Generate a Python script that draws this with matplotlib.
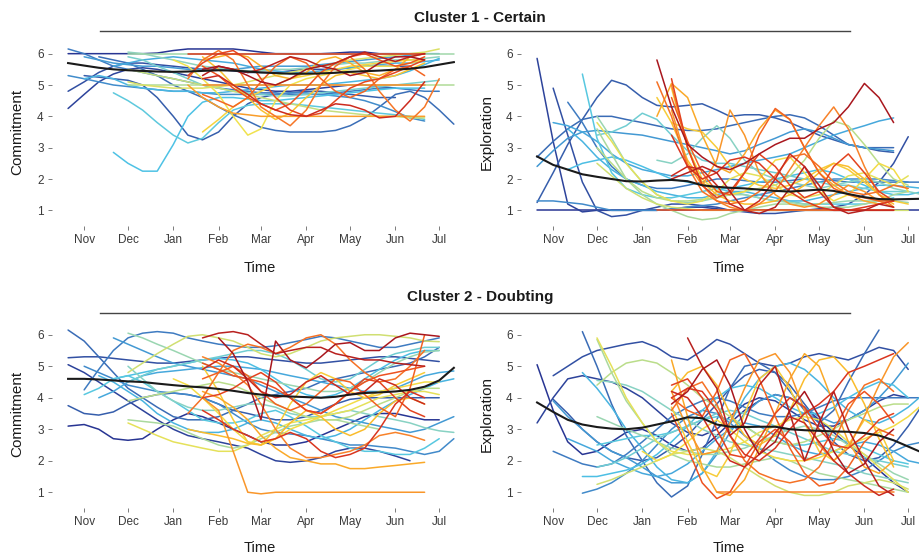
import numpy as np
import matplotlib
matplotlib.use("Agg")
import matplotlib.pyplot as plt
from matplotlib.colors import LinearSegmentedColormap
from matplotlib.lines import Line2D

plt.rcParams["font.family"] = ["Liberation Sans", "DejaVu Sans"]

# measurement grid (roughly every 10 days)
dates = np.array(["2019-10-11", "2019-10-21", "2019-11-01", "2019-11-11", "2019-11-21",
                  "2019-12-01", "2019-12-11", "2019-12-21", "2020-01-01", "2020-01-11",
                  "2020-01-21", "2020-02-01", "2020-02-11", "2020-02-21", "2020-03-01",
                  "2020-03-11", "2020-03-21", "2020-04-01", "2020-04-11", "2020-04-21",
                  "2020-05-01", "2020-05-11", "2020-05-21", "2020-06-01", "2020-06-11",
                  "2020-06-21", "2020-07-01", "2020-07-11"], dtype="datetime64[D]")

month_ticks = np.array(["2019-11-01", "2019-12-01", "2020-01-01", "2020-02-01", "2020-03-01",
                        "2020-04-01", "2020-05-01", "2020-06-01", "2020-07-01"], dtype="datetime64[D]")
month_labels = ["Nov", "Dec", "Jan", "Feb", "Mar", "Apr", "May", "Jun", "Jul"]

# each participant: (index of first date, values), ordered by participant id
c1_commit = [
    (1, [6.0, 6.0, 6.0, 6.0, 6.0, 6.0, 6.02, 6.1, 6.15, 6.15, 6.15, 6.15, 6.1, 6.05, 6.0, 6.0, 6.0, 6.0, 6.02, 6.05, 6.05, 6.0, 6.0, 6.0, 6.0]),
    (1, [4.25, 4.7, 5.1, 5.35, 5.5, 5.55, 5.5, 5.4, 5.3, 5.2, 5.1, 5.0, 4.9, 4.85, 4.8, 4.8, 4.85, 4.9, 4.95, 5.0, 5.0, 4.95, 4.9]),
    (1, [4.8, 5.1, 5.4, 5.6, 5.7, 5.7, 5.65, 5.6, 5.55, 5.5, 5.5, 5.45, 5.4, 5.4, 5.4, 5.45, 5.5, 5.5, 5.5, 5.55, 5.6, 5.6, 5.6, 5.6]),
    (2, [5.3, 5.25, 5.2, 5.15, 5.0, 4.6, 4.0, 3.4, 3.25, 3.5, 4.0, 4.4, 4.6, 4.7, 4.75, 4.8, 4.8, 4.75, 4.7, 4.65, 4.6, 4.6]),
    (3, [5.9, 5.8, 5.7, 5.5, 5.3, 5.0, 4.8, 4.6, 4.3, 4.05, 3.85, 3.65, 3.55, 3.5, 3.5, 3.5, 3.55, 3.7, 3.95, 4.3, 4.7, 4.8, 4.6, 4.2, 3.75]),
    (1, [6.15, 6.0, 5.8, 5.6, 5.5, 5.4, 5.3, 5.2, 5.1, 5.0, 4.9, 4.85, 4.8, 4.75, 4.75, 4.7, 4.7, 4.7, 4.75, 4.8, 4.85, 4.9, 4.9, 4.85, 4.8, 4.8]),
    (1, [5.3, 5.2, 5.1, 5.0, 4.95, 4.9, 4.85, 4.8, 4.8, 4.75, 4.7, 4.7, 4.7, 4.7, 4.7, 4.75, 4.75, 4.7, 4.65, 4.6, 4.5, 4.35, 4.15, 3.95, 3.85]),
    (2, [5.9, 5.8, 5.7, 5.65, 5.6, 5.6, 5.55, 5.5, 5.5, 5.5, 5.5, 5.55, 5.6, 5.6, 5.6, 5.6, 5.65, 5.7, 5.75, 5.8, 5.85, 5.9, 5.95, 6.0, 6.0]),
    (4, [5.6, 5.7, 5.8, 5.85, 5.9, 5.85, 5.8, 5.75, 5.7, 5.6, 5.5, 5.45, 5.4, 5.4, 5.45, 5.5, 5.55, 5.6, 5.65, 5.7, 5.7, 5.75, 5.8]),
    (2, [5.2, 5.3, 5.2, 5.0, 4.9, 4.85, 4.8, 4.8, 4.75, 4.75, 4.8, 4.85, 4.9, 4.95, 5.0, 5.0, 5.0, 5.05, 5.1, 5.15, 5.2, 5.3, 5.45, 5.65, 5.85]),
    (4, [2.85, 2.5, 2.25, 2.25, 3.1, 4.0, 4.45, 4.6, 4.6, 4.55, 4.5, 4.5, 4.55, 4.6, 4.65, 4.7, 4.75, 4.8, 4.85, 4.9, 4.9, 4.9]),
    (4, [4.75, 4.5, 4.2, 3.8, 3.4, 3.15, 3.3, 3.8, 4.2, 4.35, 4.4, 4.4, 4.4, 4.35, 4.3, 4.25, 4.2, 4.15, 4.1, 4.05, 4.0, 3.9]),
    (5, [5.9, 5.8, 5.6, 5.4, 5.2, 5.0, 4.9, 4.8, 4.75, 4.7, 4.65, 4.65, 4.7, 4.75, 4.8, 4.85, 4.9, 4.95, 5.0, 5.05, 5.1, 5.15]),
    (5, [6.05, 6.0, 5.9, 5.8, 5.7, 5.6, 5.55, 5.5, 5.45, 5.45, 5.5, 5.5, 5.55, 5.6, 5.65, 5.7, 5.7, 5.75, 5.8, 5.8, 5.85, 5.9]),
    (5, [6.0, 6.0, 6.0, 6.0, 6.0, 6.0, 6.0, 6.0, 6.0, 6.0, 6.0, 6.0, 6.0, 6.0, 6.0, 6.0, 6.0, 6.0, 6.0, 6.0, 6.0, 6.0, 6.0]),
    (5, [5.0, 5.0, 5.0, 5.0, 5.0, 5.0, 5.0, 5.0, 5.0, 5.0, 5.0, 5.0, 5.0, 5.0, 5.0, 5.0, 5.0, 5.0, 5.0, 5.0, 5.0, 5.0, 5.0]),
    (5, [5.5, 5.4, 5.3, 5.2, 5.1, 5.0, 4.9, 4.8, 4.7, 4.6, 4.5, 4.4, 4.3, 4.2, 4.15, 4.1, 4.05, 4.0, 4.0, 3.95, 3.95]),
    (5, [5.1, 5.0, 4.95, 4.9, 4.9, 4.9, 4.95, 5.0, 5.1, 5.2, 5.3, 5.4, 5.5, 5.6, 5.7, 5.8, 5.85, 5.9, 5.95, 6.0, 6.05, 6.15]),
    (8, [5.8, 5.6, 5.2, 4.7, 4.0, 3.4, 3.6, 4.5, 5.0, 5.2, 5.3, 5.4, 5.5, 5.6, 5.6, 5.6, 5.7, 5.8]),
    (10, [3.5, 3.9, 4.3, 4.6, 4.8, 5.0, 5.2, 5.3, 5.4, 5.5, 5.6, 5.65, 5.7, 5.75, 5.8, 5.8]),
    (10, [5.9, 5.5, 5.0, 4.6, 4.2, 3.9, 4.1, 4.6, 5.0, 5.3, 5.4, 5.3, 5.2, 5.3, 5.5, 5.7]),
    (10, [5.8, 5.9, 6.0, 5.9, 5.6, 5.3, 5.2, 5.4, 5.8, 5.9, 5.7, 5.4, 5.3, 5.5, 5.9, 6.0]),
    (9, [5.0, 4.6, 4.3, 4.1, 4.05, 4.0, 4.0, 4.0, 4.0, 4.0, 4.0, 4.0, 4.0, 4.0, 4.0, 4.0, 4.0]),
    (10, [5.0, 5.0, 5.0, 5.0, 5.0, 5.0, 5.0, 5.0, 5.0, 5.0, 5.0, 5.0, 5.0, 5.0, 5.0, 5.0]),
    (9, [5.2, 5.8, 6.1, 5.8, 5.0, 4.3, 4.0, 3.7, 4.2, 5.0, 5.6, 5.9, 5.5, 4.8, 4.2, 3.85, 4.3, 5.2]),
    (10, [4.7, 4.5, 4.3, 4.6, 5.1, 5.6, 5.9, 5.7, 5.2, 4.8, 4.6, 4.8, 5.2, 5.5, 5.6, 5.3]),
    (10, [5.6, 5.3, 4.9, 4.6, 4.4, 4.2, 4.4, 4.9, 5.4, 5.7, 5.9, 6.0, 5.8, 5.6, 5.7, 5.9]),
    (9, [5.3, 5.7, 6.0, 6.1, 5.8, 5.2, 4.6, 4.2, 4.0, 4.1, 4.5, 4.9, 5.1, 5.2, 5.4, 5.6, 5.8]),
    (9, [6.0, 6.0, 6.0, 6.0, 6.0, 6.0, 6.0, 6.0, 6.0, 6.0, 6.0, 6.0, 6.0, 6.0, 6.0, 6.0, 6.0]),
    (10, [5.2, 5.3, 5.0, 4.7, 4.4, 4.2, 4.05, 4.0, 4.2, 4.4, 4.35, 4.2, 3.95, 4.0, 4.5, 5.1]),
    (10, [5.3, 5.6, 5.5, 5.4, 5.5, 5.7, 5.9, 5.8, 5.6, 5.7, 5.9, 6.05, 5.9, 5.75, 5.9, 6.0]),
    (10, [5.5, 5.6, 5.5, 5.3, 5.1, 5.0, 5.2, 5.5, 5.6, 5.5, 5.3, 5.4, 5.7, 5.9, 5.9, 5.8]),
]
c1_commit_mean = [5.70, 5.62, 5.55, 5.50, 5.47, 5.45, 5.43, 5.42, 5.43, 5.45, 5.47, 5.46, 5.43, 5.40,
                  5.38, 5.36, 5.36, 5.37, 5.39, 5.42, 5.44, 5.46, 5.49, 5.52, 5.57, 5.65, 5.73]

c1_explore = [
    (1, [1.0] * 27),
    (1, [5.85, 3.2, 1.2, 0.95, 1.0, 1.0, 1.0, 1.0, 1.0, 1.05, 1.1, 1.1, 1.05, 1.0, 1.0, 1.0, 1.0, 1.0, 1.0, 1.0, 1.0, 1.0, 1.0]),
    (2, [4.9, 3.4, 1.9, 1.0, 0.8, 0.85, 1.0, 1.1, 1.2, 1.2, 1.15, 1.1, 1.0, 0.95, 0.9, 0.9, 0.95, 1.0, 1.05, 1.1, 1.2, 1.5, 1.9, 2.5, 3.35]),
    (1, [1.25, 2.2, 3.1, 3.9, 4.6, 5.15, 5.0, 4.6, 4.35, 4.3, 4.35, 4.4, 4.2, 4.0, 4.05, 4.05, 3.95, 3.8, 3.6, 3.4, 3.25, 3.1, 3.0, 2.9, 2.85]),
    (1, [2.7, 3.2, 3.6, 3.9, 4.0, 4.0, 3.9, 3.8, 3.7, 3.6, 3.55, 3.55, 3.6, 3.7, 3.8, 3.9, 4.0, 4.05, 3.95, 3.7, 3.4, 3.1, 3.0, 3.0, 3.0]),
    (3, [4.45, 3.8, 3.0, 2.4, 2.0, 1.8, 1.7, 1.7, 1.8, 1.9, 2.0, 2.0, 1.95, 1.9, 1.9, 1.95, 2.0, 2.0, 1.95, 1.9, 1.9, 1.9, 1.9, 1.9, 1.9]),
    (1, [1.3, 1.3, 1.25, 1.2, 1.1, 1.0, 1.0, 1.0, 1.0, 1.05, 1.1, 1.15, 1.2, 1.3, 1.4, 1.5, 1.6, 1.7, 1.8, 1.9, 2.0, 2.0, 2.0, 2.0, 1.95, 1.9]),
    (1, [2.4, 2.9, 3.3, 3.5, 3.55, 3.5, 3.45, 3.4, 3.3, 3.2, 3.1, 3.0, 2.9, 2.8, 2.9, 3.1, 3.3, 3.5, 3.6, 3.5, 3.3, 3.1, 3.0, 2.95, 2.9]),
    (2, [3.8, 3.7, 3.5, 3.2, 2.8, 2.5, 2.3, 2.2, 2.1, 2.1, 2.2, 2.3, 2.4, 2.5, 2.6, 2.7, 2.8, 3.0, 3.2, 3.4, 3.55, 3.7, 3.85, 3.95]),
    (3, [3.6, 3.2, 2.7, 2.3, 2.0, 1.8, 1.6, 1.5, 1.4, 1.4, 1.5, 1.6, 1.6, 1.5, 1.4, 1.3, 1.3, 1.4, 1.5, 1.6, 1.7, 1.8, 1.8, 1.75, 1.7]),
    (3, [2.3, 2.5, 2.6, 2.7, 2.6, 2.4, 2.2, 2.0, 1.9, 1.8, 1.7, 1.7, 1.8, 1.9, 2.0, 2.1, 2.2, 2.3, 2.2, 2.0, 1.8, 1.6, 1.5, 1.5, 1.6]),
    (4, [5.35, 3.3, 2.2, 1.7, 1.5, 1.4, 1.4, 1.5, 1.6, 1.7, 1.6, 1.5, 1.4, 1.3, 1.3, 1.2, 1.2, 1.2, 1.2, 1.2, 1.3, 1.4]),
    (5, [3.4, 3.5, 3.7, 4.1, 3.9, 3.4, 2.9, 2.6, 2.5, 2.5, 2.4, 2.3, 2.2, 2.1, 2.0, 1.9, 1.8, 1.8, 1.7, 1.6, 1.6, 1.6]),
    (9, [2.6, 2.5, 2.8, 3.3, 3.7, 3.3, 2.6, 2.2, 2.0, 1.9, 1.8, 1.7, 1.8, 1.9, 2.0, 1.9, 1.7, 1.6, 1.5]),
    (5, [4.0, 3.3, 2.5, 1.9, 1.5, 1.3, 1.25, 1.3, 1.4, 1.5, 1.5, 1.4, 1.3, 1.25, 1.2, 1.2, 1.25, 1.3, 1.3, 1.3, 1.3, 1.25]),
    (5, [3.6, 2.8, 2.0, 1.5, 1.2, 1.0, 0.8, 0.7, 0.75, 0.9, 1.0, 1.1, 1.2, 1.2, 1.15, 1.1, 1.1, 1.1, 1.2, 1.3, 1.5, 1.6]),
    (5, [3.0, 2.5, 2.0, 1.6, 1.4, 1.3, 1.3, 1.35, 1.4, 1.5, 1.6, 1.7, 1.8, 2.1, 2.6, 3.3, 3.85, 3.7, 3.1, 2.5, 2.0, 1.8]),
    (5, [2.5, 2.1, 1.7, 1.4, 1.2, 1.1, 1.05, 1.0, 1.0, 1.0, 1.0, 1.0, 1.0, 1.0, 1.0, 1.0, 1.0, 1.0, 1.0, 1.0, 1.0, 1.0]),
    (5, [3.8, 3.2, 2.5, 1.9, 1.5, 1.3, 1.2, 1.3, 1.6, 2.0, 2.2, 2.1, 1.8, 1.5, 1.4, 1.5, 1.8, 2.1, 2.2, 2.0, 1.8, 2.1]),
    (10, [4.9, 3.0, 2.0, 1.6, 1.5, 1.6, 2.0, 2.6, 2.7, 2.2, 1.6, 1.3, 1.5, 2.0, 2.5, 2.3, 1.6]),
    (9, [4.6, 3.8, 3.6, 3.5, 3.0, 2.4, 2.0, 1.8, 1.7, 1.8, 2.0, 2.3, 2.5, 2.3, 1.9, 1.5, 1.3, 1.2]),
    (10, [3.8, 2.6, 1.9, 1.5, 1.3, 1.2, 1.2, 1.3, 1.5, 1.8, 2.2, 2.5, 2.4, 2.0, 1.5, 1.2]),
    (9, [4.0, 5.05, 4.6, 3.4, 2.4, 2.2, 2.8, 3.6, 4.2, 3.9, 3.0, 2.2, 1.8, 1.5, 1.3, 1.2]),
    (10, [4.2, 2.5, 1.8, 2.6, 4.2, 3.4, 2.2, 1.5, 1.2, 1.1, 1.2, 1.5, 1.8, 1.6, 1.3, 1.1]),
    (10, [5.0, 3.0, 1.8, 1.3, 1.1, 1.0, 1.2, 1.6, 2.3, 3.0, 3.7, 4.3, 3.6, 2.4, 1.5, 1.1]),
    (9, [5.1, 4.0, 2.4, 1.6, 1.3, 1.2, 1.3, 1.6, 2.1, 2.7, 2.8, 2.4, 1.9, 1.6, 1.5, 1.6, 1.8, 1.7]),
    (10, [4.6, 3.2, 2.2, 1.6, 1.5, 2.2, 3.4, 4.25, 3.9, 3.0, 2.2, 1.7, 1.5, 1.4, 1.3, 1.3]),
    (9, [1.0] * 17),
    (10, [5.2, 3.0, 1.8, 1.4, 1.6, 2.2, 2.8, 2.4, 1.8, 1.4, 1.6, 2.4, 2.8, 2.2, 1.6, 1.3]),
    (10, [3.4, 2.4, 2.0, 2.2, 2.6, 2.7, 2.5, 2.0, 1.6, 1.3, 1.1, 1.0, 1.0, 1.1, 1.2, 1.3]),
    (10, [2.1, 2.4, 2.3, 1.8, 1.2, 1.0, 1.3, 2.0, 2.8, 2.4, 1.6, 1.1, 1.0, 1.0, 1.0, 1.0]),
    (10, [2.0, 2.2, 2.4, 2.2, 1.6, 1.0, 0.9, 1.1, 1.7, 2.4, 1.8, 1.1, 0.9, 1.0, 1.2, 1.1]),
    (9, [5.8, 4.3, 3.1, 2.7, 2.4, 2.3, 2.5, 2.8, 3.1, 3.3, 3.3, 3.6, 3.8, 4.3, 5.05, 4.6, 3.8]),
]
c1_explore_mean = [2.72, 2.45, 2.30, 2.15, 2.07, 2.00, 1.93, 1.92, 1.95, 1.97, 1.93, 1.80, 1.75, 1.72,
                   1.70, 1.66, 1.62, 1.60, 1.63, 1.66, 1.62, 1.52, 1.42, 1.36, 1.35, 1.36, 1.37]

c2_commit = [
    (1, [3.1, 3.15, 3.0, 2.7, 2.65, 2.7, 3.0, 3.3, 3.5, 3.4, 3.2, 3.0, 2.8, 2.6, 2.5, 2.5, 2.6, 2.8, 3.0, 3.2, 3.4, 3.5, 3.5, 3.4, 3.3, 3.3]),
    (1, [5.05, 4.8, 4.5, 4.2, 3.9, 3.6, 3.3, 3.0, 2.8, 2.7, 2.6, 2.5, 2.4, 2.2, 2.0, 1.95, 2.0, 2.1, 2.3, 2.4, 2.4, 2.3, 2.15, 2.0]),
    (1, [5.27, 5.3, 5.3, 5.25, 5.2, 5.15, 5.1, 5.1, 5.15, 5.2, 5.25, 5.3, 5.3, 5.25, 5.2, 5.15, 5.1, 5.1, 5.15, 5.2, 5.25, 5.3, 5.3, 5.25, 5.2, 5.15]),
    (1, [3.75, 3.5, 3.45, 3.55, 3.8, 4.0, 4.1, 4.15, 4.1, 4.0, 3.8, 3.6, 3.5, 3.4, 3.3, 3.3, 3.4, 3.6, 3.8, 3.95, 4.0, 4.0, 4.0, 4.0, 4.0, 4.0]),
    (1, [6.15, 5.8, 5.3, 4.8, 4.3, 4.0, 3.7, 3.4, 3.3, 3.3, 3.4, 3.6, 3.8, 4.0, 4.1, 4.2, 4.3, 4.5, 4.6, 4.7, 4.8, 4.9, 5.0, 5.1, 5.3, 5.6]),
    (2, [4.25, 4.9, 5.5, 5.9, 6.05, 6.1, 6.05, 5.9, 5.8, 5.7, 5.65, 5.6, 5.6, 5.65, 5.75, 5.85, 5.95, 5.9, 5.8, 5.7, 5.6, 5.6, 5.7, 5.8, 5.9]),
    (2, [5.0, 4.8, 4.6, 4.4, 4.3, 4.2, 4.15, 4.1, 4.0, 3.8, 3.5, 3.2, 3.0, 2.9, 2.85, 2.8, 2.7, 2.6, 2.5, 2.5, 2.45, 2.4, 2.3, 2.2, 2.3, 2.7]),
    (4, [5.9, 5.7, 5.5, 5.3, 5.1, 5.0, 4.9, 4.8, 4.7, 4.6, 4.4, 4.2, 4.0, 3.8, 3.6, 3.4, 3.3, 3.2, 3.1, 3.0, 2.9, 3.0, 3.2, 3.4]),
    (3, [4.0, 4.2, 4.5, 4.7, 4.8, 4.85, 4.9, 4.95, 5.0, 5.0, 4.95, 4.9, 4.8, 4.7, 4.6, 4.5, 4.4, 4.3, 4.2, 4.2, 4.3, 4.5, 4.7, 4.8, 4.85]),
    (3, [4.7, 4.5, 4.2, 3.9, 3.5, 3.2, 3.0, 2.9, 2.9, 3.0, 3.2, 3.3, 3.2, 3.0, 2.8, 2.7, 2.8, 3.0, 3.3, 3.6, 3.9, 4.1, 4.3, 4.5, 4.6]),
    (4, [4.6, 4.7, 4.8, 4.9, 5.0, 5.1, 5.2, 5.25, 5.2, 5.1, 4.9, 4.6, 4.3, 4.1, 4.0, 4.1, 4.3, 4.6, 4.9, 5.2, 5.4, 5.5, 5.5]),
    (2, [4.1, 4.3, 4.6, 4.7, 4.5, 4.2, 3.9, 3.6, 3.3, 3.2, 3.2, 3.3, 3.5, 3.6, 3.4, 3.1, 2.8, 2.6, 2.4, 2.3, 2.3, 2.2, 2.2, 2.4, 2.7]),
    (5, [4.5, 4.7, 4.9, 5.0, 5.1, 5.2, 5.3, 5.4, 5.5, 5.5, 5.4, 5.2, 4.9, 4.6, 4.5, 4.6, 4.9, 5.2, 5.4, 5.5, 5.6, 5.6]),
    (5, [5.0, 4.6, 4.2, 3.9, 3.7, 3.6, 3.6, 3.7, 3.8, 3.8, 3.7, 3.5, 3.4, 3.4, 3.5, 3.6, 3.5, 3.4, 3.3, 3.2, 3.05, 2.95, 2.9]),
    (5, [6.05, 5.9, 5.7, 5.5, 5.3, 5.1, 4.9, 4.8, 4.7, 4.6, 4.5, 4.4, 4.3, 4.2, 4.2, 4.3, 4.5, 4.8, 5.1, 5.3, 5.45, 5.5]),
    (5, [3.3, 3.25, 3.2, 3.1, 2.9, 2.7, 2.5, 2.4, 2.5, 2.7, 2.9, 3.1, 3.2, 3.3, 3.3, 3.2, 3.1, 3.0]),
    (5, [3.9, 4.0, 4.1, 4.2, 4.3, 4.4, 4.5, 4.4, 4.2, 4.0, 3.8, 3.6, 3.4, 3.3, 3.3, 3.4, 3.6, 3.8, 4.0, 4.2, 4.3, 4.3]),
    (5, [4.8, 5.1, 5.4, 5.7, 5.95, 6.0, 5.9, 5.8, 5.6, 5.4, 5.3, 5.4, 5.6, 5.8, 5.9, 5.95, 6.0, 6.0, 5.95, 5.9, 5.8, 5.78]),
    (5, [3.2, 3.0, 2.8, 2.6, 2.5, 2.4, 2.3, 2.3, 2.5, 2.8, 3.0, 3.2, 3.3, 3.4, 3.5, 3.6, 3.8, 4.0, 4.1, 4.2, 4.2, 4.1]),
    (8, [4.6, 4.4, 4.0, 3.5, 3.0, 2.6, 2.5, 2.7, 3.0, 3.2, 3.4, 3.6, 3.8, 4.0, 4.2, 4.3, 4.4, 4.5, 4.5]),
    (10, [5.0, 4.2, 3.3, 2.6, 2.5, 3.0, 3.8, 4.5, 4.8, 4.6, 4.2, 4.0, 4.1, 4.4, 4.6, 4.8]),
    (9, [3.0, 2.9, 2.8, 2.7, 2.55, 2.5, 2.7, 3.2, 3.6, 3.4, 3.0, 2.8, 3.0, 3.5, 3.9, 4.0, 3.8]),
    (10, [4.2, 4.0, 3.7, 3.3, 2.8, 2.4, 2.1, 2.0, 1.9, 1.9, 1.75, 1.75, 1.8, 1.85, 1.9, 1.95]),
    (10, [4.0, 3.6, 2.3, 1.0, 0.95, 1.0, 1.0, 1.0, 1.0, 1.0, 1.0, 1.0, 1.0, 1.0, 1.0, 1.0]),
    (10, [5.3, 5.1, 4.8, 4.4, 3.8, 3.0, 2.4, 2.1, 2.1, 2.2, 2.3, 2.5, 2.8, 2.9, 2.8, 2.65]),
    (9, [3.5, 4.0, 4.8, 5.5, 5.7, 5.6, 5.4, 5.6, 5.9, 6.0, 5.7, 5.2, 4.8, 4.5, 4.6, 5.0, 5.5]),
    (10, [4.6, 4.8, 5.0, 4.7, 4.2, 3.8, 3.6, 3.8, 4.2, 4.6, 4.5, 4.1, 3.7, 3.4, 4.3, 6.0]),
    (10, [5.1, 4.9, 4.7, 4.6, 4.5, 4.3, 4.0, 3.6, 3.5, 3.8, 4.2, 4.5, 4.7, 4.8, 4.9, 5.0]),
    (10, [4.0, 4.1, 4.3, 4.6, 4.8, 4.5, 4.0, 3.6, 3.5, 3.8, 4.2, 4.6, 4.5, 4.0, 3.6, 3.4]),
    (10, [3.6, 3.3, 3.0, 2.8, 2.6, 2.7, 2.9, 2.7, 2.3, 2.1, 2.2, 2.4, 3.0, 3.8, 4.2, 4.0]),
    (10, [4.9, 5.2, 5.0, 4.6, 4.2, 4.0, 4.1, 4.5, 4.7, 4.4, 4.1, 4.2, 4.6, 4.4, 4.0, 3.8]),
    (10, [5.9, 6.05, 6.1, 6.0, 5.7, 5.4, 5.5, 5.6, 5.6, 5.4, 5.3, 5.2, 5.2, 5.1, 5.05, 5.0]),
    (11, [5.9, 5.4, 4.5, 3.3, 5.8, 5.2, 4.95, 5.3, 5.7, 5.75, 5.5, 5.5, 5.9, 6.05, 6.0, 5.95]),
]
c2_commit_mean = [4.60, 4.60, 4.58, 4.55, 4.52, 4.50, 4.45, 4.40, 4.36, 4.33, 4.28, 4.22, 4.15, 4.10,
                  4.06, 4.04, 4.02, 4.00, 4.03, 4.10, 4.15, 4.17, 4.20, 4.25, 4.35, 4.55, 4.95]

c2_explore = [
    (1, [5.05, 3.6, 2.6, 2.2, 2.3, 2.6, 2.9, 3.0, 2.8, 2.5, 2.3, 2.4, 2.8, 3.2, 3.6, 3.9, 4.1, 4.0, 3.7, 3.3, 2.9, 2.5, 2.1, 1.7, 1.3, 1.0]),
    (1, [3.2, 4.0, 4.6, 4.7, 4.6, 4.5, 4.3, 4.0, 3.6, 3.2, 2.9, 2.8, 3.0, 3.4, 3.8, 4.0, 3.9, 3.6, 3.3, 3.1, 3.1, 3.3, 3.6, 3.9, 4.1, 4.0]),
    (2, [4.7, 5.0, 5.3, 5.5, 5.6, 5.7, 5.78, 5.6, 5.3, 5.2, 5.5, 5.85, 5.7, 5.4, 5.1, 5.0, 5.1, 5.3, 5.4, 5.3, 5.2, 5.4, 5.6, 5.5, 4.9]),
    (2, [3.95, 3.5, 3.0, 2.6, 2.3, 2.1, 2.0, 2.1, 2.4, 2.8, 3.3, 3.8, 4.3, 4.7, 4.9, 4.8, 4.4, 3.8, 3.2, 2.6, 2.2, 2.0, 2.1, 2.5, 3.1, 3.8]),
    (4, [6.1, 5.0, 3.8, 2.8, 2.0, 1.3, 0.85, 1.2, 2.2, 3.3, 4.3, 5.0, 5.1, 4.8, 4.2, 3.6, 3.2, 3.6, 4.5, 5.4, 6.15]),
    (2, [2.3, 2.1, 1.9, 1.8, 1.9, 2.2, 2.6, 3.0, 3.4, 3.7, 3.9, 4.0, 3.9, 3.7, 3.5, 3.4, 3.4, 3.5, 3.7, 3.9, 4.0, 4.0, 4.0, 4.0, 4.0, 4.0]),
    (4, [0.97, 1.1, 1.3, 1.6, 2.0, 2.5, 3.0, 3.4, 3.6, 3.5, 3.2, 2.8, 2.4, 2.0, 1.7, 1.5, 1.4, 1.4, 1.5, 1.7, 2.0, 2.3, 2.5, 2.6]),
    (2, [3.9, 3.4, 3.0, 2.6, 2.3, 2.1, 1.8, 1.5, 1.3, 1.3, 1.6, 2.2, 2.9, 3.5, 3.9, 4.1, 4.0, 3.7, 3.4, 3.2, 3.3, 3.6, 4.0, 4.5, 5.1]),
    (3, [2.7, 2.5, 2.3, 2.0, 1.8, 1.6, 1.5, 1.6, 1.9, 2.3, 2.7, 3.0, 3.2, 3.1, 2.8, 2.5, 2.3, 2.2, 2.3, 2.5, 2.6, 2.5, 2.3, 2.0, 1.9]),
    (4, [4.8, 4.3, 3.7, 3.0, 2.4, 1.8, 1.4, 1.3, 1.6, 2.3, 3.2, 4.0, 4.6, 5.0, 5.1, 4.9, 4.5, 4.0, 3.6, 3.3, 3.2, 3.4, 3.7, 4.1]),
    (4, [1.5, 1.5, 1.6, 1.7, 1.9, 2.2, 2.6, 3.1, 3.6, 4.0, 4.3, 4.4, 4.3, 4.0, 3.7, 3.5, 3.5, 3.7, 4.0, 4.3, 4.5, 4.4, 4.0]),
    (5, [2.5, 2.6, 2.7, 2.8, 2.8, 2.9, 3.1, 3.3, 3.4, 3.3, 3.1, 2.8, 2.6, 2.5, 2.5, 2.6, 2.7, 2.6, 2.4, 2.2, 2.0, 1.9]),
    (5, [1.8, 1.9, 2.1, 2.4, 2.7, 2.9, 3.1, 3.3, 3.5, 3.6, 3.5, 3.3, 3.1, 2.9, 2.7, 2.5, 2.3, 2.2, 2.1, 2.0, 1.9, 1.8]),
    (5, [4.55, 4.5, 4.4, 4.2, 3.9, 3.6, 3.3, 3.0, 2.8, 2.6, 2.5, 2.4, 2.3, 2.2, 2.1, 2.0, 1.9, 1.8, 1.6, 1.5, 1.4, 1.3]),
    (5, [3.4, 3.2, 3.0, 2.8, 2.6, 2.4, 2.3, 2.2, 2.2, 2.3, 2.4, 2.6, 2.8, 3.0, 3.1, 3.0, 2.8, 2.5, 2.2, 1.9, 1.6, 1.4]),
    (5, [5.85, 4.8, 3.9, 3.2, 2.6, 2.2, 2.0, 1.9, 1.8, 1.8, 1.9, 2.0, 2.1, 2.0, 1.8, 1.6, 1.5, 1.4, 1.3, 1.2, 1.1, 1.0]),
    (5, [4.4, 4.8, 5.1, 5.2, 5.1, 4.8, 4.4, 4.0, 3.7, 3.4, 3.1, 2.8, 2.6, 2.5, 2.6, 2.8, 3.0, 3.3, 3.5, 3.7, 3.8, 3.8]),
    (5, [1.25, 1.4, 1.6, 1.8, 2.0, 2.2, 2.3, 2.4, 2.3, 2.1, 1.8, 1.5, 1.2, 1.0, 0.9, 0.9, 1.0, 1.2, 1.3, 1.4, 1.3, 1.1]),
    (5, [5.9, 5.0, 4.0, 3.2, 2.6, 2.3, 2.2, 2.2, 2.3, 2.4, 2.6, 2.9, 3.1, 3.3, 3.4, 3.3, 3.0, 2.6, 2.2, 1.8, 1.4, 1.0]),
    (8, [2.3, 2.0, 2.2, 2.6, 3.0, 3.3, 3.0, 2.6, 2.3, 2.1, 2.0, 2.0, 2.1, 2.3, 2.5, 2.7, 2.9, 3.1, 3.4, 3.8]),
    (10, [3.7, 2.6, 1.7, 1.5, 2.2, 3.5, 4.6, 5.0, 4.3, 3.2, 2.3, 2.0, 2.5, 3.3, 3.0, 2.0]),
    (10, [4.2, 4.8, 5.0, 4.4, 3.5, 2.8, 2.5, 2.8, 3.6, 4.6, 5.2, 5.3, 4.8, 3.8, 2.7, 1.8]),
    (10, [5.2, 3.4, 1.8, 1.0, 0.9, 1.4, 2.4, 3.5, 4.6, 5.4, 5.0, 3.8, 2.6, 1.8, 1.6, 2.0]),
    (10, [4.2, 3.0, 2.2, 2.3, 3.2, 4.3, 5.2, 5.4, 4.8, 3.6, 2.5, 2.0, 2.4, 3.4, 4.4, 5.3, 5.75]),
    (13, [1.0] * 13),
    (10, [3.6, 4.3, 4.5, 3.8, 2.8, 2.0, 1.6, 1.4, 1.3, 1.4, 1.8, 2.6, 3.6, 4.4, 4.6, 4.2]),
    (10, [4.0, 3.6, 3.4, 4.2, 5.2, 5.4, 4.6, 3.4, 2.4, 1.6, 1.2, 1.3, 1.8, 2.6, 3.0, 2.8]),
    (10, [3.5, 2.4, 1.3, 0.8, 1.0, 1.8, 2.6, 3.0, 2.6, 2.0, 2.2, 3.0, 3.8, 4.2, 3.8, 3.2]),
    (10, [4.4, 4.6, 4.0, 3.0, 2.2, 2.1, 2.7, 3.5, 4.0, 3.7, 3.0, 2.5, 2.4, 2.8, 3.3, 3.5]),
    (10, [4.0, 4.3, 4.2, 3.6, 2.8, 2.2, 2.0, 2.4, 3.0, 3.5, 3.8, 4.2, 4.8, 5.0, 5.2, 5.4]),
    (10, [4.2, 4.0, 3.4, 2.6, 2.0, 1.8, 2.2, 2.9, 3.4, 3.2, 2.6, 2.0, 1.6, 1.2, 0.9, 1.1]),
    (11, [5.9, 5.0, 4.3, 2.8, 3.2, 4.4, 5.0, 3.5, 2.0, 3.2, 4.2, 3.0, 2.0, 1.2, 0.9]),
    (10, [3.8, 4.2, 4.9, 5.2, 4.4, 3.0, 2.2, 2.6, 3.6, 4.2, 3.4, 2.3, 1.6, 1.9, 2.6, 3.0]),
]
c2_explore_mean = [3.85, 3.55, 3.30, 3.15, 3.07, 3.02, 3.00, 3.05, 3.15, 3.25, 3.38, 3.35, 3.15, 3.08,
                   3.07, 3.08, 3.08, 3.00, 2.97, 2.95, 2.93, 2.92, 2.88, 2.80, 2.65, 2.45, 2.25]

titles = ["Cluster 1 - Certain", "Cluster 2 - Doubting"]

traj_cmap = LinearSegmentedColormap.from_list("traj", [
    "#283593", "#3559a8", "#3f7fc4", "#46a8dc", "#4fc6e6", "#8fd3bf", "#b9dd8c",
    "#f2e24c", "#fbb829", "#f8842a", "#f1571f", "#d8321f", "#a9171e"])


def draw_panel(ax, series, mean, ylabel, xlab_y):
    n = len(series)
    for i, (start, vals) in enumerate(series):
        k = min(len(vals), len(dates) - start)
        ax.plot(dates[start:start + k], vals[:k], color=traj_cmap(i / (n - 1)),
                lw=1.1, solid_joinstyle="round", solid_capstyle="round")
    ax.plot(dates[1:1 + len(mean)], mean, color="#1a1a1a", lw=1.5)
    ax.set_xlim(np.datetime64("2019-10-10"), np.datetime64("2020-07-20"))
    ax.set_ylim(0.5, 6.5)
    ax.set_yticks([1, 2, 3, 4, 5, 6])
    ax.set_xticks(month_ticks)
    ax.set_xticklabels(month_labels)
    for s in ax.spines.values():
        s.set_visible(False)
    ax.tick_params(length=3, width=0.6, color="#666666", labelsize=8.5,
                   labelcolor="#3a3a3a", pad=3)
    ax.set_ylabel(ylabel, fontsize=11, color="#1a1a1a")
    ax.yaxis.set_label_coords(-0.066, 0.5)
    ax.set_xlabel("Time", fontsize=10.5, color="#1a1a1a")
    ax.xaxis.set_label_coords(0.5, xlab_y)


fig = plt.figure(figsize=(9.19, 5.56), dpi=100)
w = 415 / 919
h_top = 188 / 556
h_bot = 189 / 556
ax1 = fig.add_axes([52 / 919, 1 - 226 / 556, w, h_top])
ax2 = fig.add_axes([521 / 919, 1 - 226 / 556, w, h_top])
ax3 = fig.add_axes([52 / 919, 1 - 508 / 556, w, h_bot])
ax4 = fig.add_axes([521 / 919, 1 - 508 / 556, w, h_bot])

draw_panel(ax1, c1_commit, c1_commit_mean, "Commitment", -0.185)
draw_panel(ax2, c1_explore, c1_explore_mean, "Exploration", -0.185)
draw_panel(ax3, c2_commit, c2_commit_mean, "Commitment", -0.175)
draw_panel(ax4, c2_explore, c2_explore_mean, "Exploration", -0.175)

for title, ty, ly in zip(titles, [18, 297], [31, 313]):
    fig.text(480 / 919, 1 - ty / 556, title, ha="center", va="center",
             fontsize=11, fontweight="bold", color="#1a1a1a")
    fig.add_artist(Line2D([100 / 919, 850 / 919], [1 - ly / 556, 1 - ly / 556],
                          color="#444444", lw=1.0, transform=fig.transFigure))

fig.savefig("out.png", dpi=100)
